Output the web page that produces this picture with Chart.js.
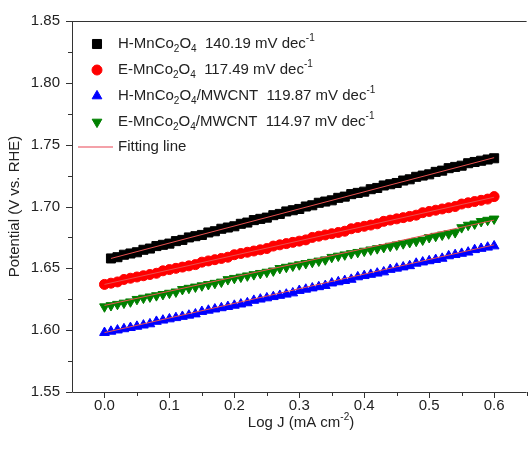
<!DOCTYPE html>
<html>
<head>
<meta charset="utf-8">
<script src="https://cdn.jsdelivr.net/npm/chart.js@4"></script>
<style>
  html, body { margin: 0; padding: 0; background: #fff; overflow: hidden; }
  canvas { display: block; }
</style>
</head>
<body>
<canvas id="tafel" width="534" height="450"></canvas>
<script>
// Log J values (shared by all four curves)
const logJ = [0.00, 0.01, 0.02, 0.03, 0.04, 0.05, 0.06, 0.07, 0.08, 0.09,
              0.10, 0.11, 0.12, 0.13, 0.14, 0.15, 0.16, 0.17, 0.18, 0.19,
              0.20, 0.21, 0.22, 0.23, 0.24, 0.25, 0.26, 0.27, 0.28, 0.29,
              0.30, 0.31, 0.32, 0.33, 0.34, 0.35, 0.36, 0.37, 0.38, 0.39,
              0.40, 0.41, 0.42, 0.43, 0.44, 0.45, 0.46, 0.47, 0.48, 0.49,
              0.50, 0.51, 0.52, 0.53, 0.54, 0.55, 0.56, 0.57, 0.58, 0.59, 0.60];

// Potential (V vs. RHE)
const hMnCo = [null, 1.658, 1.659, 1.661, 1.662, 1.663, 1.665, 1.666, 1.668, 1.669,
               1.670, 1.672, 1.673, 1.675, 1.676, 1.677, 1.679, 1.680, 1.682, 1.683,
               1.684, 1.686, 1.687, 1.689, 1.690, 1.691, 1.693, 1.694, 1.696, 1.697,
               1.698, 1.700, 1.701, 1.703, 1.704, 1.705, 1.707, 1.708, 1.710, 1.711,
               1.712, 1.714, 1.715, 1.717, 1.718, 1.719, 1.721, 1.722, 1.724, 1.725,
               1.726, 1.728, 1.729, 1.731, 1.732, 1.733, 1.735, 1.736, 1.737, 1.738, 1.739];
const eMnCo = [1.637, 1.638, 1.639, 1.641, 1.642, 1.643, 1.644, 1.645, 1.646, 1.648,
               1.649, 1.650, 1.651, 1.652, 1.653, 1.655, 1.656, 1.657, 1.658, 1.659,
               1.661, 1.662, 1.663, 1.664, 1.665, 1.666, 1.668, 1.669, 1.670, 1.671,
               1.672, 1.673, 1.675, 1.676, 1.677, 1.678, 1.679, 1.680, 1.682, 1.683,
               1.684, 1.685, 1.686, 1.688, 1.689, 1.690, 1.691, 1.692, 1.693, 1.695,
               1.696, 1.697, 1.698, 1.699, 1.700, 1.702, 1.703, 1.704, 1.705, 1.706, 1.708];
const hMnCoCnt = [1.598, 1.599, 1.600, 1.601, 1.602, 1.603, 1.604, 1.605, 1.607, 1.608,
                  1.609, 1.610, 1.611, 1.612, 1.613, 1.615, 1.616, 1.617, 1.618, 1.619,
                  1.620, 1.621, 1.622, 1.624, 1.625, 1.626, 1.627, 1.628, 1.629, 1.630,
                  1.632, 1.633, 1.634, 1.635, 1.636, 1.638, 1.639, 1.640, 1.641, 1.643,
                  1.644, 1.645, 1.646, 1.647, 1.649, 1.650, 1.651, 1.652, 1.654, 1.655,
                  1.656, 1.657, 1.658, 1.660, 1.661, 1.662, 1.663, 1.665, 1.666, 1.667, 1.668];
const eMnCoCnt = [1.619, 1.620, 1.621, 1.622, 1.623, 1.625, 1.626, 1.627, 1.628, 1.629,
                  1.630, 1.631, 1.633, 1.634, 1.635, 1.636, 1.637, 1.638, 1.639, 1.641,
                  1.642, 1.643, 1.644, 1.645, 1.646, 1.647, 1.648, 1.650, 1.651, 1.652,
                  1.653, 1.654, 1.655, 1.656, 1.657, 1.659, 1.660, 1.661, 1.662, 1.663,
                  1.664, 1.665, 1.666, 1.667, 1.668, 1.669, 1.670, 1.671, 1.672, 1.673,
                  1.675, 1.676, 1.677, 1.678, 1.679, 1.683, 1.685, 1.686, 1.688, 1.689, 1.690];

// Fitting lines (end points)
const fitH = [[0.01, 1.658], [0.60, 1.7395]];
const fitE = [[0.00, 1.637], [0.60, 1.7075]];
const fitHCnt = [[0.00, 1.598], [0.60, 1.669]];
const fitECnt = [[0.00, 1.620], [0.60, 1.689]];

// Axis ticks
const xTicks = [0.0, 0.1, 0.2, 0.3, 0.4, 0.5, 0.6];
const xMinor = [0.05, 0.15, 0.25, 0.35, 0.45, 0.55, 0.65];
const yTicks = [1.55, 1.60, 1.65, 1.70, 1.75, 1.80, 1.85];
const yMinor = [1.575, 1.625, 1.675, 1.725, 1.775, 1.825];

// Legend text; _{..} = subscript, ^{..} = superscript
const legendItems = [
    'H-MnCo_{2}O_{4}  140.19 mV dec^{-1}',
    'E-MnCo_{2}O_{4}  117.49 mV dec^{-1}',
    'H-MnCo_{2}O_{4}/MWCNT  119.87 mV dec^{-1}',
    'E-MnCo_{2}O_{4}/MWCNT  114.97 mV dec^{-1}',
    'Fitting line'
];
const xTitle = 'Log J (mA cm^{-2})';
const yTitle = 'Potential (V vs. RHE)';

const FONT = '"Liberation Sans", Arial, sans-serif';
const TEXT = '#222';
const FIT_COLOR = '#e8504f';

function toPoints(vals) {
    const pts = [];
    vals.forEach((v, i) => { if (v !== null) pts.push({ x: logJ[i], y: v }); });
    return pts;
}
function fitPoints(f) {
    return f.map(p => ({ x: p[0], y: p[1] }));
}

// split text into normal / sub / sup pieces
function parseRich(str) {
    const parts = [];
    const re = /([_^])\{([^}]*)\}/g;
    let last = 0, m;
    while ((m = re.exec(str)) !== null) {
        if (m.index > last) parts.push({ t: str.slice(last, m.index), k: 'n' });
        parts.push({ t: m[2], k: m[1] === '_' ? 'sub' : 'sup' });
        last = re.lastIndex;
    }
    if (last < str.length) parts.push({ t: str.slice(last), k: 'n' });
    return parts;
}
function richWidth(ctx, str, size) {
    let w = 0;
    parseRich(str).forEach(p => {
        ctx.font = (p.k === 'n' ? size : Math.round(size * 0.68)) + 'px ' + FONT;
        w += ctx.measureText(p.t).width;
    });
    return w;
}
function drawRich(ctx, str, x, y, size) {
    ctx.textBaseline = 'middle';
    ctx.textAlign = 'left';
    parseRich(str).forEach(p => {
        let dy = 0;
        if (p.k === 'n') {
            ctx.font = size + 'px ' + FONT;
        } else {
            ctx.font = Math.round(size * 0.68) + 'px ' + FONT;
            dy = p.k === 'sub' ? size * 0.32 : -size * 0.38;
        }
        ctx.fillText(p.t, x, y + dy);
        x += ctx.measureText(p.t).width;
    });
}

const seriesStyle = [
    { color: '#000000', style: 'rect', radius: 6.4, rotation: 0 },
    { color: '#ff0000', style: 'circle', radius: 5, rotation: 0 },
    { color: '#0000ff', style: 'triangle', radius: 5.6, rotation: 0 },
    { color: '#008000', style: 'triangle', radius: 5.6, rotation: 180 }
];

const framePlugin = {
    id: 'frame',
    afterDraw(chart) {
        const { ctx, chartArea: a, scales: { x, y } } = chart;
        ctx.save();
        ctx.strokeStyle = '#333';
        ctx.lineWidth = 1;
        ctx.beginPath();
        ctx.moveTo(a.left + 0.5, a.top);
        ctx.lineTo(a.left + 0.5, a.bottom + 0.5);
        ctx.lineTo(a.right, a.bottom + 0.5);
        ctx.moveTo(a.left, a.top + 0.5);
        ctx.lineTo(a.right, a.top + 0.5);
        // tick marks, outward
        xTicks.forEach(v => {
            const px = Math.round(x.getPixelForValue(v)) + 0.5;
            ctx.moveTo(px, a.bottom); ctx.lineTo(px, a.bottom + 6);
        });
        xMinor.forEach(v => {
            const px = Math.round(x.getPixelForValue(v)) + 0.5;
            ctx.moveTo(px, a.bottom); ctx.lineTo(px, a.bottom + 4);
        });
        yTicks.forEach(v => {
            const py = Math.round(y.getPixelForValue(v)) + 0.5;
            ctx.moveTo(a.left, py); ctx.lineTo(a.left - 6, py);
        });
        yMinor.forEach(v => {
            const py = Math.round(y.getPixelForValue(v)) + 0.5;
            ctx.moveTo(a.left, py); ctx.lineTo(a.left - 4, py);
        });
        ctx.stroke();

        // axis titles
        ctx.fillStyle = TEXT;
        const cx = (a.left + 530) / 2;
        drawRich(ctx, xTitle, cx - richWidth(ctx, xTitle, 15) / 2, 423, 15);
        ctx.save();
        ctx.translate(15, (a.top + a.bottom) / 2);
        ctx.rotate(-Math.PI / 2);
        drawRich(ctx, yTitle, -richWidth(ctx, yTitle, 15) / 2, 0, 15);
        ctx.restore();

        // legend
        const rowY = [44, 70, 96, 122, 147];
        legendItems.forEach((label, i) => {
            const yy = rowY[i];
            if (i < seriesStyle.length) {
                const s = seriesStyle[i];
                ctx.save();
                ctx.fillStyle = s.color;
                ctx.strokeStyle = s.color;
                Chart.helpers.drawPoint(ctx, { pointStyle: s.style, radius: s.radius, rotation: s.rotation, borderWidth: 1 }, 97, yy);
                ctx.restore();
            } else {
                ctx.save();
                ctx.beginPath();
                ctx.strokeStyle = 'rgb(240, 130, 140)';
                ctx.lineWidth = 1.3;
                ctx.moveTo(78, yy);
                ctx.lineTo(113, yy);
                ctx.stroke();
                ctx.restore();
            }
            ctx.fillStyle = TEXT;
            drawRich(ctx, label, 118, yy, 15);
        });
        ctx.restore();
    }
};

const scatterSets = [hMnCo, eMnCo, hMnCoCnt, eMnCoCnt].map((vals, i) => {
    const s = seriesStyle[i];
    return {
        data: toPoints(vals),
        showLine: false,
        pointStyle: s.style,
        pointRadius: s.radius,
        pointRotation: s.rotation,
        backgroundColor: s.color,
        borderColor: s.color,
        borderWidth: 1,
        order: 2
    };
});
const fitSets = [fitH, fitE, fitHCnt, fitECnt].map(f => ({
    data: fitPoints(f),
    showLine: true,
    pointRadius: 0,
    borderColor: FIT_COLOR,
    borderWidth: 1,
    order: 1
}));

new Chart(document.getElementById('tafel'), {
    type: 'scatter',
    data: { datasets: scatterSets.concat(fitSets) },
    options: {
        responsive: false,
        animation: false,
        devicePixelRatio: 1,
        layout: { padding: { top: 20, right: 2, left: 0, bottom: 0 } },
        plugins: { legend: { display: false }, tooltip: { enabled: false } },
        scales: {
            x: {
                type: 'linear',
                min: -0.05,
                max: 0.65,
                afterBuildTicks: s => { s.ticks = xTicks.map(v => ({ value: v })); },
                afterFit: s => { s.height = 58; },
                grid: { display: false, drawTicks: false },
                border: { display: false },
                ticks: {
                    padding: 5,
                    color: TEXT,
                    font: { family: FONT, size: 15 },
                    maxRotation: 0,
                    callback: v => v.toFixed(1)
                }
            },
            y: {
                type: 'linear',
                min: 1.55,
                max: 1.85,
                afterBuildTicks: s => { s.ticks = yTicks.map(v => ({ value: v })); },
                afterFit: s => { s.width = 72; },
                grid: { display: false, drawTicks: false },
                border: { display: false },
                ticks: {
                    padding: 12,
                    color: TEXT,
                    font: { family: FONT, size: 15 },
                    callback: v => v.toFixed(2)
                }
            }
        }
    },
    plugins: [framePlugin]
});
</script>
</body>
</html>
